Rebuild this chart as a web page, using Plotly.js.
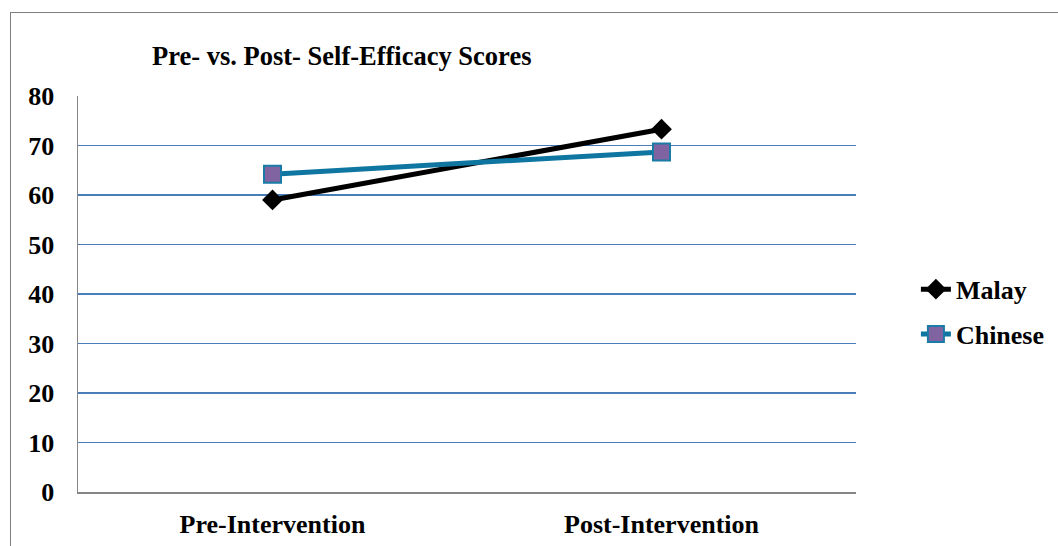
<!DOCTYPE html>
<html><head><meta charset="utf-8">
<script src="https://cdn.plot.ly/plotly-3.0.1.min.js"></script>
<style>
html,body{margin:0;padding:0;background:#fff;}
#frame{position:absolute;left:10px;top:12px;width:1060px;height:545px;border:1.5px solid #7f7f7f;box-sizing:border-box;}
#chart{position:absolute;left:0;top:0;width:1058px;height:546px;}
</style></head>
<body>
<div id="frame"></div>
<div id="chart"></div>
<script>
const categories = ["Pre-Intervention", "Post-Intervention"];
const malay = [59.0, 73.3];
const chinese = [64.2, 68.7];
const yTicks = [0, 10, 20, 30, 40, 50, 60, 70, 80];

const font = {family: "Liberation Serif, Times New Roman, serif", color: "#000"};

const traces = [
  {x: categories, y: malay, name: "<b>Malay</b>", type: "scatter", mode: "lines+markers",
   legendgroup: "a",
   line: {color: "#000000", width: 5},
   marker: {symbol: "diamond", size: 16, color: "#000000"}},
  {x: categories, y: chinese, name: "<b>Chinese</b>", type: "scatter", mode: "lines+markers",
   legendgroup: "b",
   line: {color: "#0e76a0", width: 5},
   marker: {symbol: "square", size: 17, color: "#8064a2", line: {color: "#1a7ba6", width: 2}}}
];

const layout = {
  width: 1058, height: 546,
  margin: {l: 78, r: 202, t: 96, b: 54, autoexpand: false},
  paper_bgcolor: "rgba(0,0,0,0)", plot_bgcolor: "rgba(0,0,0,0)",
  font: Object.assign({size: 26}, font),
  title: {text: "<b>Pre- vs. Post- Self-Efficacy Scores</b>", x: 152/1058, xanchor: "left", y: 1-56/546, yanchor: "middle",
          font: Object.assign({size: 26.5}, font)},
  xaxis: {type: "category", range: [-0.5, 1.5], showgrid: false, zeroline: false,
          showline: true, linecolor: "#868686", linewidth: 1.5, ticks: "",
          tickfont: Object.assign({size: 26}, font), ticklabelstandoff: 8,
          tickvals: categories, ticktext: categories.map(c => "<b>" + c + "</b>")},
  yaxis: {range: [0, 80], tickvals: yTicks, ticktext: yTicks.map(v => "<b>" + v + "</b>"),
          showgrid: true, gridcolor: "#4a7ebb", gridwidth: 1.3, zeroline: false,
          showline: true, linecolor: "#868686", linewidth: 1.5, ticks: "",
          tickfont: Object.assign({size: 26}, font), ticklabelstandoff: 17},
  legend: {x: 1.077, y: 0.455, xanchor: "left", yanchor: "middle",
           font: Object.assign({size: 26}, font), traceorder: "grouped", tracegroupgap: 8,
           bgcolor: "rgba(0,0,0,0)"},
  showlegend: true
};

Plotly.newPlot("chart", traces, layout, {displayModeBar: false, staticPlot: true});
</script>
</body></html>
